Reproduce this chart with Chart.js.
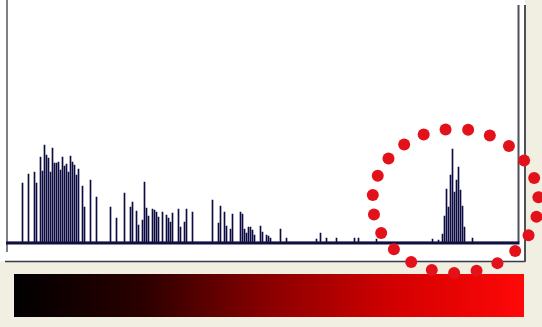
<!DOCTYPE html>
<html>
<head>
<meta charset="utf-8">
<script src="https://cdn.jsdelivr.net/npm/chart.js@4/dist/chart.umd.min.js"></script>
<style>
  html, body { margin: 0; padding: 0; background: #f1eee2; }
  canvas { display: block; }
</style>
</head>
<body>
<canvas id="hist" width="542" height="327"></canvas>
<script>
// intensity bins 0..255
const bins = Array.from({ length: 256 }, (_, i) => i);

// pixel counts per bin
const counts = [
  0, 0, 0, 0, 0, 0, 0, 59, 0, 0, 68, 0, 0, 70, 59, 0,
  85, 71, 97, 87, 84, 70, 94, 79, 79, 80, 72, 85, 76, 78, 70, 86,
  80, 77, 67, 73, 0, 56, 35, 0, 0, 62, 0, 0, 45, 0, 0, 0,
  0, 0, 0, 35, 0, 0, 24, 0, 0, 0, 49, 0, 0, 35, 40, 0,
  31, 17, 0, 22, 60, 34, 26, 0, 33, 32, 30, 25, 0, 30, 0, 27,
  24, 20, 29, 0, 0, 33, 15, 0, 20, 33, 0, 0, 30, 0, 0, 0,
  0, 0, 0, 0, 0, 0, 42, 0, 0, 19, 36, 0, 30, 16, 0, 13,
  28, 0, 0, 0, 30, 28, 13, 9, 15, 15, 12, 7, 0, 0, 16, 10,
  0, 7, 6, 4, 0, 0, 0, 0, 13, 0, 0, 4, 0, 0, 0, 0,
  0, 0, 0, 0, 0, 0, 0, 0, 0, 0, 3, 0, 9, 0, 0, 4,
  0, 0, 0, 0, 4, 0, 0, 0, 0, 0, 0, 0, 0, 4, 0, 4,
  0, 0, 0, 0, 0, 0, 0, 0, 3, 0, 0, 0, 0, 0, 0, 0,
  0, 0, 0, 0, 0, 0, 0, 0, 0, 0, 0, 0, 0, 0, 0, 0,
  0, 0, 0, 0, 3, 0, 0, 2, 0, 8, 26, 53, 35, 67, 93, 50,
  62, 75, 52, 36, 15, 0, 0, 0, 4, 0, 0, 0, 0, 0, 0, 0,
  0, 0, 0, 0, 0, 0, 0, 0, 0, 0, 0, 0, 0, 0, 0, 0
];

// highlighted peak (bin, count) that the red dotted ring goes around
const ringCenter = [223.5, 41];

// panel frame, axis lines, gradient strip and the dotted ring
const decor = {
  id: "decor",
  beforeDraw(chart) {
    const { ctx, chartArea: a } = chart;
    ctx.save();
    ctx.fillStyle = "#f1eee2";
    ctx.fillRect(0, 0, chart.width, chart.height);
    ctx.fillStyle = "#ffffff";
    ctx.fillRect(0, 0, 525, 261);

    // frame
    ctx.strokeStyle = "#3a3a4a";
    ctx.lineWidth = 1.5;
    ctx.beginPath();
    ctx.moveTo(5, 261.5);
    ctx.lineTo(525, 261.5);
    ctx.stroke();
    ctx.strokeStyle = "#505058";
    ctx.lineWidth = 2;
    ctx.beginPath();
    ctx.moveTo(525, 5);
    ctx.lineTo(525, 262);
    ctx.moveTo(a.right - 1, 5);
    ctx.lineTo(a.right - 1, a.bottom);
    ctx.stroke();

    // gradient strip
    const g = ctx.createLinearGradient(14, 0, 524, 0);
    g.addColorStop(0, "#000000");
    g.addColorStop(0.25, "#2a0000");
    g.addColorStop(0.5, "#8a0000");
    g.addColorStop(0.75, "#d40000");
    g.addColorStop(1, "#ff0808");
    ctx.fillStyle = g;
    ctx.fillRect(14, 274, 510, 43);
    ctx.restore();
  },
  afterDatasetsDraw(chart) {
    const { ctx, chartArea: a, scales } = chart;
    ctx.save();
    // y axis
    ctx.strokeStyle = "#555560";
    ctx.lineWidth = 1.5;
    ctx.beginPath();
    ctx.moveTo(7, 0);
    ctx.lineTo(7, a.bottom + 10);
    ctx.stroke();
    // x axis
    ctx.strokeStyle = "#101040";
    ctx.lineWidth = 3;
    ctx.beginPath();
    ctx.moveTo(6, a.bottom + 1);
    ctx.lineTo(a.right, a.bottom + 1);
    ctx.stroke();

    // dotted ring
    const cx = scales.x.getPixelForValue(ringCenter[0]);
    const cy = scales.y.getPixelForValue(ringCenter[1]);
    const rx = 83, ry = 72, n = 23;
    ctx.fillStyle = "#e3121a";
    for (let k = 0; k < n; k++) {
      const t = -Math.PI / 2 - 0.12 + (k * 2 * Math.PI) / n;
      ctx.beginPath();
      ctx.arc(cx + rx * Math.cos(t), cy + ry * Math.sin(t), 6, 0, 2 * Math.PI);
      ctx.fill();
    }
    ctx.restore();
  }
};

new Chart(document.getElementById("hist"), {
  type: "bar",
  data: {
    labels: bins,
    datasets: [
      {
        label: "Histogram",
        data: counts,
        backgroundColor: "#0c0c42",
        barThickness: 1,
        categoryPercentage: 1.0
      }
    ]
  },
  options: {
    responsive: false,
    animation: false,
    devicePixelRatio: 1,
    layout: { padding: { left: 7.5, right: 22.5, top: 5, bottom: 85 } },
    plugins: { legend: { display: false }, tooltip: { enabled: false } },
    scales: {
      x: { display: false, offset: true },
      y: { display: false, min: 0, max: 237 }
    }
  },
  plugins: [decor]
});
</script>
</body>
</html>
